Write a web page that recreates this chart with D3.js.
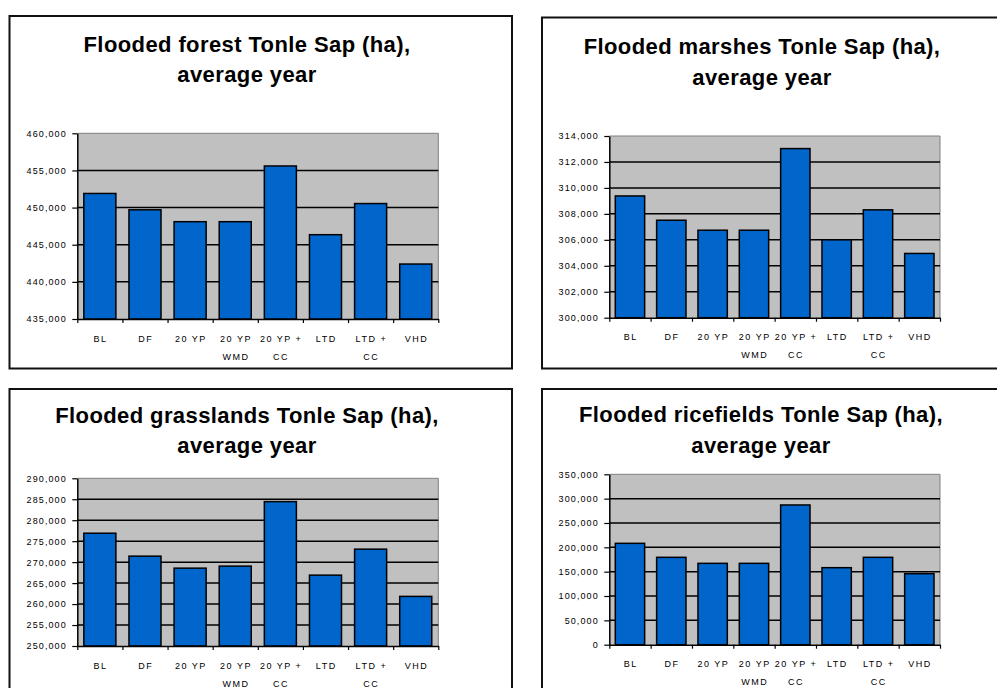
<!DOCTYPE html>
<html>
<head>
<meta charset="utf-8">
<script src="https://cdn.jsdelivr.net/npm/d3@7"></script>
<style>
  html, body { margin: 0; padding: 0; background: #fff; }
  svg { display: block; }
  text { font-family: "Liberation Sans", Arial, sans-serif; fill: #000; }
</style>
</head>
<body>
<svg id="chart" width="997" height="688"></svg>
<script>
// Scenario categories (shared by all four panels); "\n" breaks a label onto two lines
const categories = ["BL", "DF", "20 YP", "20 YP\nWMD", "20 YP +\nCC", "LTD", "LTD +\nCC", "VHD"];

// Flooded area per scenario, hectares, average year
const forestValues = [451900, 449700, 448100, 448100, 455600, 446350, 450540, 442400];
const marshValues  = [309380, 307510, 306740, 306740, 313030, 306000, 308310, 304950];
const grassValues  = [276900, 271430, 268570, 269050, 284440, 266900, 273100, 261830];
const riceValues   = [208200, 179450, 167100, 167100, 287000, 158200, 179450, 145900];

// Value-axis tick labels for each panel
const forestTicks = [435000, 440000, 445000, 450000, 455000, 460000];
const marshTicks  = [300000, 302000, 304000, 306000, 308000, 310000, 312000, 314000];
const grassTicks  = [250000, 255000, 260000, 265000, 270000, 275000, 280000, 285000, 290000];
const riceTicks   = [0, 50000, 100000, 150000, 200000, 250000, 300000, 350000];

const titles = [
  ["Flooded forest Tonle Sap (ha),", "average year"],
  ["Flooded marshes Tonle Sap (ha),", "average year"],
  ["Flooded grasslands Tonle Sap (ha),", "average year"],
  ["Flooded ricefields Tonle Sap (ha),", "average year"]
];

// Panel layout: outer frame, plot rectangle and title placement
const panels = [
  { title: titles[0], values: forestValues, ticks: forestTicks,
    frame: { x: 9.5, y: 16, w: 502.5, h: 352.5 },
    plot: { x0: 77.3, x1: 438.3, y0: 133.3, y1: 319 },
    tx: 247, ty: [52.3, 81.7] },
  { title: titles[1], values: marshValues, ticks: marshTicks,
    frame: { x: 542, y: 17.5, w: 480, h: 351 },
    plot: { x0: 609.3, x1: 940, y0: 136, y1: 317.7 },
    tx: 762, ty: [54.3, 84.5] },
  { title: titles[2], values: grassValues, ticks: grassTicks,
    frame: { x: 9.5, y: 389, w: 502.5, h: 330 },
    plot: { x0: 77.3, x1: 438.3, y0: 478.3, y1: 646 },
    tx: 247, ty: [423, 452.7] },
  { title: titles[3], values: riceValues, ticks: riceTicks,
    frame: { x: 542, y: 389, w: 480, h: 330 },
    plot: { x0: 609.3, x1: 940, y0: 474.3, y1: 644.7 },
    tx: 761, ty: [421.7, 453] }
];

const svg = d3.select("#chart");
const fmt = d3.format(",");

panels.forEach(p => {
  const g = svg.append("g");

  // Outer chart frame
  g.append("rect")
    .attr("x", p.frame.x).attr("y", p.frame.y)
    .attr("width", p.frame.w).attr("height", p.frame.h)
    .attr("fill", "#fff").attr("stroke", "#111").attr("stroke-width", 2);

  // Title, two lines
  g.selectAll("text.title")
    .data(p.title)
    .join("text")
    .attr("class", "title")
    .attr("x", p.tx)
    .attr("y", (d, i) => p.ty[i])
    .attr("text-anchor", "middle")
    .style("font-size", "22px")
    .style("font-weight", "bold")
    .style("letter-spacing", "0.4px")
    .text(d => d);

  const x = d3.scaleBand()
    .domain(categories)
    .range([p.plot.x0, p.plot.x1])
    .paddingInner(0.29)
    .paddingOuter(0.145);

  const xEdge = d3.scaleLinear()
    .domain([0, categories.length])
    .range([p.plot.x0, p.plot.x1]);

  const y = d3.scaleLinear()
    .domain(d3.extent(p.ticks))
    .range([p.plot.y1, p.plot.y0]);

  // Plot area background
  g.append("rect")
    .attr("x", p.plot.x0).attr("y", p.plot.y0)
    .attr("width", p.plot.x1 - p.plot.x0)
    .attr("height", p.plot.y1 - p.plot.y0)
    .attr("fill", "#c0c0c0")
    .attr("stroke", "none");

  // Top and right border of the plot area
  g.append("path")
    .attr("d", `M${p.plot.x0},${p.plot.y0}H${p.plot.x1}V${p.plot.y1}`)
    .attr("fill", "none").attr("stroke", "#808080").attr("stroke-width", 1);

  // Horizontal gridlines
  g.selectAll("line.grid")
    .data(p.ticks.slice(1, -1))
    .join("line")
    .attr("class", "grid")
    .attr("x1", p.plot.x0).attr("x2", p.plot.x1)
    .attr("y1", d => y(d)).attr("y2", d => y(d))
    .attr("stroke", "#000").attr("stroke-width", 1.5);

  // Bars
  g.selectAll("rect.bar")
    .data(p.values)
    .join("rect")
    .attr("class", "bar")
    .attr("x", (d, i) => x(categories[i]))
    .attr("width", x.bandwidth())
    .attr("y", d => y(d))
    .attr("height", d => y(y.domain()[0]) - y(d))
    .attr("fill", "#0066cc")
    .attr("stroke", "#000").attr("stroke-width", 1.5);

  // Value axis
  const yAxis = g.append("g")
    .attr("transform", `translate(${p.plot.x0},0)`)
    .call(d3.axisLeft(y).tickValues(p.ticks).tickFormat(fmt)
      .tickSize(5).tickSizeOuter(0).tickPadding(5.5));
  yAxis.select(".domain").attr("stroke", "#000").attr("stroke-width", 1.5);
  yAxis.selectAll(".tick line").attr("stroke", "#000").attr("stroke-width", 1.2);
  yAxis.selectAll(".tick text")
    .style("font-family", '"Liberation Sans", Arial, sans-serif')
    .style("font-size", "9px")
    .style("letter-spacing", "1.1px")
    .attr("fill", "#000");

  // Category axis with ticks between categories
  const xAxis = g.append("g")
    .attr("transform", `translate(0,${p.plot.y1})`)
    .call(d3.axisBottom(xEdge).tickValues(d3.range(categories.length + 1))
      .tickFormat("").tickSize(4).tickSizeOuter(0));
  xAxis.select(".domain").attr("stroke", "#000").attr("stroke-width", 1.5);
  xAxis.selectAll(".tick line").attr("stroke", "#000").attr("stroke-width", 1.2);

  // Category labels
  const lab = g.selectAll("text.cat")
    .data(categories)
    .join("text")
    .attr("class", "cat")
    .attr("text-anchor", "middle")
    .style("font-size", "9px")
    .style("letter-spacing", "1.5px");
  lab.each(function(d) {
    const t = d3.select(this);
    const cx = x(d) + x.bandwidth() / 2 + 0.75;
    d.split("\n").forEach((line, i) => {
      t.append("tspan")
        .attr("x", cx)
        .attr("y", p.plot.y1 + 22.5 + i * 18)
        .text(line);
    });
  });
});
</script>
</body>
</html>
